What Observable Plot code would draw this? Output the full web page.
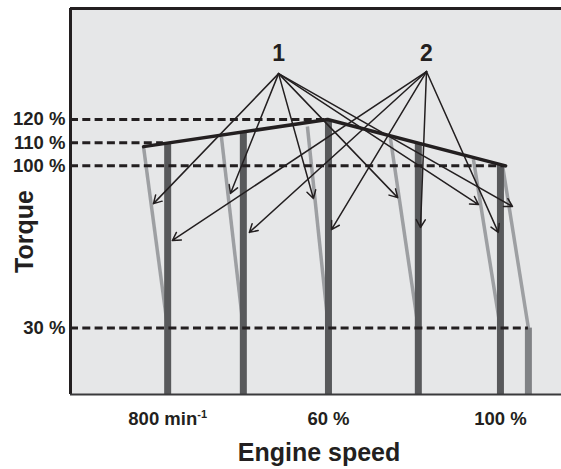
<!DOCTYPE html>
<html>
<head>
<meta charset="utf-8">
<script src="https://cdn.jsdelivr.net/npm/d3@7"></script>
<script src="https://cdn.jsdelivr.net/npm/@observablehq/plot@0.6"></script>
<style>
  html, body { margin: 0; padding: 0; background: #ffffff; }
  #chart svg { display: block; }
</style>
</head>
<body>
<div id="chart"></div>
<script>
// Torque levels (dashed reference lines) and how far (engine speed %) each dashed line runs
const torqueLevels = [120, 110, 100, 30];
const torqueLineEnds = [59.8, 21.6, 101.2, 106.5];

// Test mode speeds (dark bars) and their maximum torque (%)
const modeSpeeds = [22.6, 40.2, 60, 80.9, 100];
const modeMaxTorque = [109.8, 114.6, 120, 109.8, 100.6];

// Full-load curve
const fullLoadSpeed = [17, 59.8, 101.2];
const fullLoadTorque = [108.3, 120, 100];

// Grey slanted lines (from full-load curve down to 30 %)
const rampTopSpeed = [17, 35.1, 55.1, 74.4, 93.7, 100.5];
const rampTopTorque = [108, 112.5, 117, 112, 103, 100];
const rampBottomSpeed = [22.6, 40.2, 60, 80.9, 100, 106.5];
const rampBottomTorque = [30, 30, 30, 30, 30, 30];

// Extra grey bar
const extraSpeed = [106.5];
const extraTorque = [30];

// Axis ticks
const xTicks = [22.6, 60, 100];
const xTickLabels = ["800 min⁻¹", "60 %", "100 %"];

// Callouts 1 and 2
const calloutLabels = ["1", "2"];
const calloutSpeed = [48.4, 82.8];
const calloutTorque = [148.5, 148.5];
const calloutFromTorque = [139.8, 140.7];

const arrows1Speed = [19.3, 37.2, 56.5, 76.1, 94.9, 102.8];
const arrows1Torque = [83.7, 88.1, 85.9, 86.3, 83.3, 82.5];
const arrows2Speed = [23.7, 41.6, 60.7, 81.4, 99.5];
const arrows2Torque = [67.8, 71.3, 72.5, 73.4, 71.3];

const xDomain = [0, 114.2];
const yDomain = [1.35, 167.9];

const ink = "#231f20";

const dashed = torqueLevels.map((t, i) => ({t, end: torqueLineEnds[i]}));
const bars = modeSpeeds.map((s, i) => ({s, t: modeMaxTorque[i]}));
const curve = fullLoadSpeed.map((s, i) => ({s, t: fullLoadTorque[i]}));
const ramps = rampTopSpeed.map((s, i) => ({s1: s, t1: rampTopTorque[i], s2: rampBottomSpeed[i], t2: rampBottomTorque[i]}));
const extra = extraSpeed.map((s, i) => ({s, t: extraTorque[i]}));
const ticks = xTicks.map((s, i) => ({s, label: xTickLabels[i]}));
const callouts = calloutLabels.map((l, i) => ({l, s: calloutSpeed[i], t: calloutTorque[i], t0: calloutFromTorque[i]}));
const arrows = [
  ...arrows1Speed.map((s, i) => ({s0: calloutSpeed[0], t0: calloutFromTorque[0], s, t: arrows1Torque[i]})),
  ...arrows2Speed.map((s, i) => ({s0: calloutSpeed[1], t0: calloutFromTorque[1], s, t: arrows2Torque[i]}))
];

const fontFamily = "'Liberation Sans', Arial, Helvetica, sans-serif";

const chart = Plot.plot({
  width: 561,
  height: 469,
  marginLeft: 70,
  marginRight: 0,
  marginTop: 8,
  marginBottom: 75,
  style: {fontFamily, color: ink, background: "#ffffff"},
  x: {domain: xDomain, axis: null},
  y: {domain: yDomain, axis: null},
  marks: [
    Plot.frame({fill: "#e6e7e8", stroke: null}),
    // grey slanted lines
    Plot.link(ramps, {x1: "s1", y1: "t1", x2: "s2", y2: "t2", stroke: "#9d9fa2", strokeWidth: 3.5}),
    // extra grey bar
    Plot.ruleX(extra, {x: "s", y1: yDomain[0], y2: "t", stroke: "#808285", strokeWidth: 7}),
    // dark bars
    Plot.ruleX(bars, {x: "s", y1: yDomain[0], y2: "t", stroke: "#58595b", strokeWidth: 7}),
    // dashed torque levels
    Plot.ruleY(dashed, {y: "t", x1: xDomain[0], x2: "end", stroke: ink, strokeWidth: 3, strokeDasharray: "8,4.3"}),
    // full load curve
    Plot.line(curve, {x: "s", y: "t", stroke: ink, strokeWidth: 3.5}),
    // arrows
    Plot.arrow(arrows, {x1: "s0", y1: "t0", x2: "s", y2: "t", stroke: ink, strokeWidth: 1.5, headLength: 9}),
    // callout labels
    Plot.text(callouts, {x: "s", y: "t", text: "l", fontSize: 23, fontWeight: "bold", fill: ink}),
    // frame borders
    Plot.ruleX([xDomain[0]], {y1: yDomain[0], y2: yDomain[1], stroke: ink, strokeWidth: 3}),
    Plot.ruleY([yDomain[1]], {x1: xDomain[0], x2: xDomain[1], stroke: ink, strokeWidth: 3}),
    Plot.ruleY([yDomain[0]], {x1: xDomain[0], x2: xDomain[1], stroke: "#3a3a3c", strokeWidth: 2}),
    // y tick labels
    Plot.text(torqueLevels, {x: xDomain[0], y: d => d, text: d => `${d} %`, textAnchor: "end", dx: -5, fontSize: 18.5, fontWeight: "bold", fill: ink}),
    // x tick labels
    Plot.text(ticks, {x: "s", y: yDomain[0], text: "label", dy: 25, fontSize: 18.5, fontWeight: "bold", fill: ink}),
    // axis titles
    Plot.text(["Torque"], {frameAnchor: "left", textAnchor: "middle", lineAnchor: "middle", dx: -46, dy: 30, rotate: -90, fontSize: 25, fontWeight: "bold", fill: ink}),
    Plot.text(["Engine speed"], {frameAnchor: "bottom", textAnchor: "middle", lineAnchor: "middle", dx: 3, dy: 58, fontSize: 25, fontWeight: "bold", fill: ink})
  ]
});

// render "min⁻¹" with a real superscript
chart.querySelectorAll("text").forEach(t => {
  if (t.textContent.includes("⁻¹")) {
    const base = t.textContent.replace("⁻¹", "");
    t.textContent = base;
    const sup = document.createElementNS("http://www.w3.org/2000/svg", "tspan");
    sup.setAttribute("dy", "-7");
    sup.setAttribute("font-size", "11");
    sup.textContent = "-1";
    t.appendChild(sup);
  }
});

document.getElementById("chart").appendChild(chart);
</script>
</body>
</html>
